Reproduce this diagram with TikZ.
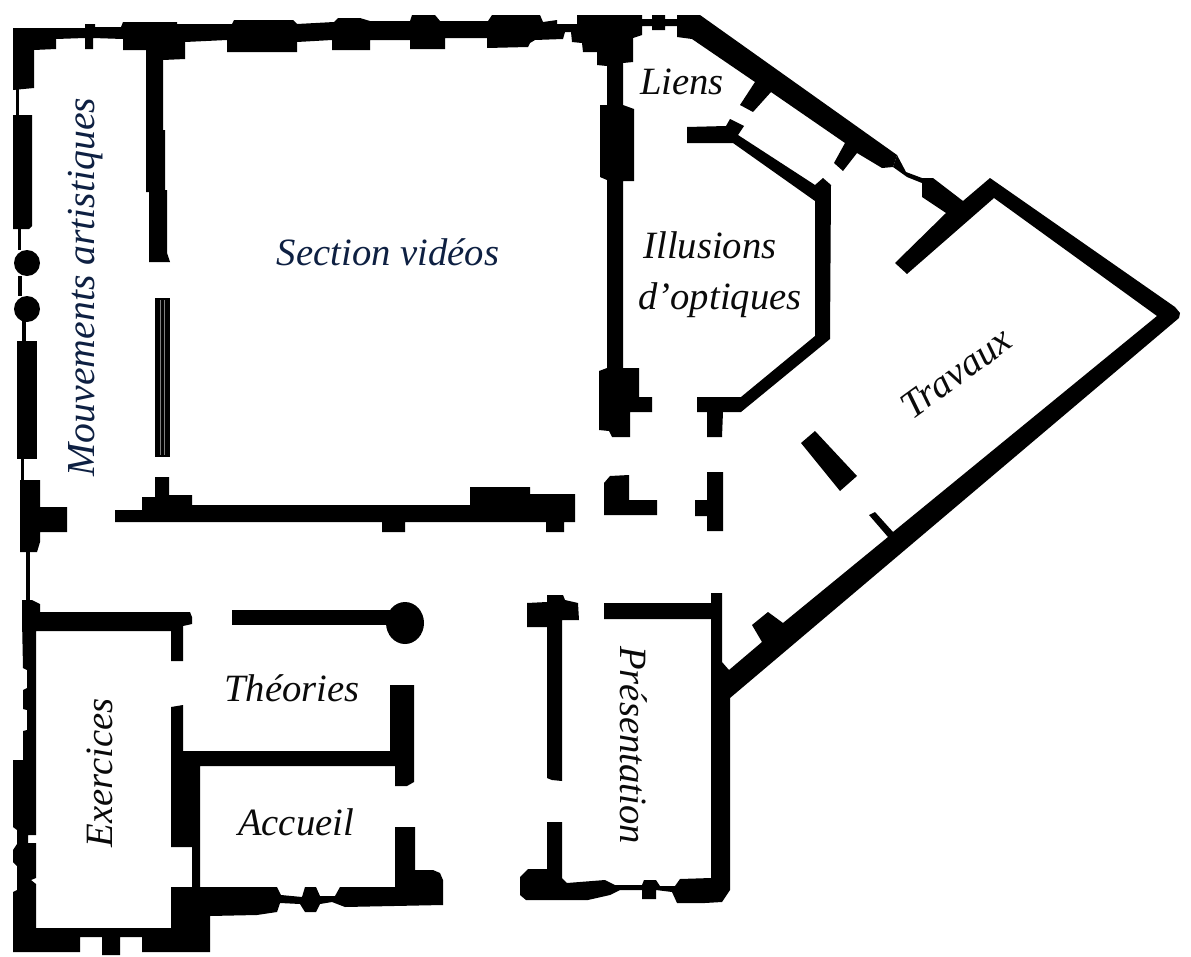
\documentclass[tikz,border=0pt]{standalone}
\usepackage{xcolor}
\usepackage{fontspec}
\setmainfont{Liberation Serif}
\usetikzlibrary{positioning}
\definecolor{navycolor}{RGB}{14,32,66}
\definecolor{inkcolor}{RGB}{10,10,10}

\begin{document}
\begin{tikzpicture}[
    x=0.02cm, y=-0.02cm,
    wall/.style={fill=black, draw=none},
    thinwall/.style={draw=black, line width=2pt},
    room/.style={font=\fontsize{22}{26}\selectfont\itshape, text=inkcolor, inner sep=0pt},
    navyroom/.style={room, text=navycolor}
]
    \useasboundingbox[fill=white] (0,0) rectangle (1191,957);

    % top wall and left corner
    \fill[wall] (13,28) -- (85,28) -- (85,24) -- (95,24) -- (95,27) -- (121,27) -- (123,22) -- (177,22) -- (177,24)
        -- (232,24) -- (234,20) -- (293,20) -- (297,24) -- (334,22) -- (338,18) -- (360,18) -- (370,21) -- (410,21)
        -- (412,15) -- (435,15) -- (440,21) -- (488,21) -- (492,15) -- (540,15) -- (543,22) -- (557,20) -- (557,24)
        -- (577,24) -- (577,15) -- (642,15) -- (642,19) -- (652,19) -- (652,15) -- (665,15) -- (665,19) -- (677,19)
        -- (677,15) -- (700,15) -- (897,155) -- (893,167) -- (882,168) -- (857,153) -- (843,171) -- (834,163) -- (845,143)
        -- (771,92) -- (753,112) -- (740,105) -- (755,82) -- (692,39) -- (677,37) -- (677,26) -- (665,26) -- (665,30)
        -- (652,30) -- (652,26) -- (642,26) -- (642,35) -- (633,38) -- (633,62) -- (623,63) -- (623,105) -- (634,109)
        -- (634,181) -- (623,181) -- (623,368) -- (639,368) -- (639,397) -- (652,397) -- (652,412) -- (630,412)
        -- (630,437) -- (612,437) -- (609,431) -- (599,430) -- (599,371) -- (607,368) -- (607,180) -- (600,177)
        -- (600,105) -- (607,105) -- (607,66) -- (597,65) -- (597,52) -- (583,52) -- (582,43) -- (572,42) -- (571,32)
        -- (565,32) -- (563,39) -- (535,40) -- (530,43) -- (528,47) -- (487,48) -- (487,38) -- (445,38) -- (445,49)
        -- (410,49) -- (410,40) -- (370,40) -- (370,50) -- (332,50) -- (332,40) -- (297,42) -- (297,52) -- (227,52)
        -- (227,40) -- (185,42) -- (185,59) -- (163,60) -- (163,130) -- (165,130) -- (165,190) -- (167,190) -- (167,253)
        -- (170,262) -- (149,262) -- (149,192) -- (146,192) -- (146,60) -- (146,50) -- (123,50) -- (123,39) -- (93,38)
        -- (93,49) -- (85,49) -- (85,38) -- (56,39) -- (56,49) -- (34,50) -- (34,88) -- (13,90) -- cycle;

    % left wall pieces
    \draw[thinwall] (17.5,88) -- (17.5,115);
    \fill[wall] (13,115) -- (32,115) -- (32,226) -- (29,229) -- (13,229) -- cycle;
    \draw[thinwall] (19.5,229) -- (19.5,250);
    \fill[wall] (27,263) circle (13);
    \draw[thinwall] (20,276) -- (20,296);
    \fill[wall] (27,309) circle (13);
    \draw[thinwall] (24,320) -- (24,342);
    \fill[wall] (17,341) -- (37,341) -- (37,459) -- (17,459) -- cycle;
    \draw[thinwall] (22.5,459) -- (22.5,480);
    \fill[wall] (20,480) -- (40,480) -- (40,507) -- (67,507) -- (67,532) -- (40,532) -- (40,542) -- (37,552) -- (20,552) -- cycle;
    \draw[thinwall] (28,552) -- (28,600);

    % lower left outer wall, Exercices and Accueil
    \fill[wall] (22,600) -- (32,600) -- (40,604) -- (40,612) -- (190,612) -- (192,617) -- (192,624) -- (183,626)
        -- (183,661) -- (171,661) -- (171,631) -- (36,631) -- (36,835) -- (28,835) -- (28,843) -- (36,843) -- (36,878)
        -- (31,880) -- (36,884) -- (36,928) -- (171,928) -- (171,887) -- (192,887) -- (192,847) -- (171,847) -- (171,707)
        -- (183,705) -- (183,751) -- (390,751) -- (390,685) -- (414,685) -- (414,782) -- (407,786) -- (395,786)
        -- (395,766) -- (200,766) -- (200,887) -- (277,887) -- (281,895) -- (302,897) -- (305,887) -- (316,887)
        -- (320,896) -- (335,896) -- (340,887) -- (395,887) -- (395,827) -- (415,827) -- (415,870) -- (433,870)
        -- (440,873) -- (443,880) -- (443,905) -- (345,907) -- (332,902) -- (320,904) -- (316,912) -- (305,912) -- (300,904)
        -- (280,903) -- (277,912) -- (257,915) -- (210,916) -- (210,952) -- (142,952) -- (142,937) -- (120,937)
        -- (120,955) -- (102,955) -- (102,937) -- (80,937) -- (80,952) -- (13,952) -- (13,892) -- (17,890) -- (17,866)
        -- (13,862) -- (13,850) -- (17,844) -- (17,830) -- (13,827) -- (13,760) -- (23,760) -- (23,731) -- (27,730)
        -- (27,710) -- (23,709) -- (23,690) -- (27,688) -- (27,670) -- (23,668) -- (22,620) -- cycle;

    % thin double wall of the Section videos
    \fill[wall] (155,298) rectangle (170,457);
    \draw[gray, line width=0.5pt] (160,300) -- (160,455);
    \draw[gray, line width=0.5pt] (164,300) -- (164,455);

    % corridor wall
    \fill[wall] (115,510) -- (142,510) -- (142,497) -- (155,497) -- (155,477) -- (169,477) -- (169,495) -- (192,495)
        -- (192,505) -- (470,505) -- (470,487) -- (530,487) -- (530,494) -- (575,494) -- (575,522) -- (564,522)
        -- (564,532) -- (546,532) -- (546,522) -- (405,522) -- (405,532) -- (382,532) -- (382,522) -- (115,522) -- cycle;

    % wall of Theories
    \fill[wall] (232,610) rectangle (400,625);
    \fill[wall] (405,623) ellipse (19 and 21);

    % Illusions room
    \fill[wall] (687,127) -- (726,126) -- (730,119) -- (744,126) -- (738,135) -- (815,185) -- (823,178) -- (831,185)
        -- (830,339) -- (741,412) -- (723,412) -- (722,437) -- (707,437) -- (707,412) -- (697,412) -- (697,397)
        -- (741,397) -- (815,336) -- (815,201) -- (733,143) -- (687,143) -- cycle;

    % small pieces around the crossing
    \fill[wall] (604,483) -- (610,476) -- (629,475) -- (629,500) -- (657,500) -- (657,515) -- (604,515) -- cycle;
    \fill[wall] (707,472) -- (723,472) -- (723,531) -- (707,531) -- (707,516) -- (695,516) -- (695,500) -- (707,500) -- cycle;
    \fill[wall] (815,431) -- (857,476) -- (840,491) -- (801,443) -- cycle;

    % Travaux room
    \fill[wall] (897,155) -- (906,172) -- (922,178) -- (933,178) -- (963,201) -- (990,178) -- (1175,307) -- (1180,313)
        -- (1179,318) -- (730,698) -- (730,890) -- (722,902) -- (705,903) -- (677,903) -- (672,892) -- (656,890)
        -- (656,899) -- (642,899) -- (642,890) -- (620,890) -- (610,895) -- (588,900) -- (526,900) -- (520,895)
        -- (520,877) -- (528,869) -- (547,869) -- (547,822) -- (562,822) -- (562,878) -- (567,883) -- (605,880)
        -- (615,885) -- (642,885) -- (644,880) -- (656,880) -- (660,886) -- (675,886) -- (680,879) -- (711,878)
        -- (711,619) -- (604,619) -- (604,603) -- (711,603) -- (711,593) -- (722,593) -- (722,662) -- (729,670)
        -- (762,642) -- (752,625) -- (768,612) -- (783,623) -- (888,537) -- (869,515) -- (875,512) -- (893,532)
        -- (1157,316) -- (994,198) -- (907,274) -- (895,263) -- (946,213) -- (922,197) -- (922,183) -- (907,177) -- (893,167) -- cycle;

    % Presentation left wall
    \fill[wall] (527,603) -- (547,602) -- (547,595) -- (563,595) -- (565,600) -- (578,603) -- (579,620) -- (562,620)
        -- (562,781) -- (552,780) -- (547,778) -- (547,627) -- (527,627) -- cycle;

    \node[navyroom, rotate=90, font=\fontsize{22.6}{26}\selectfont\itshape] (mouvements) at (86,287) {Mouvements artistiques};
    \node[navyroom] (videos) at (388,252) {Section vidéos};
    \node[room] (liens) at (682,82) {Liens};
    \node[room] (illusions) at (710,245) {Illusions};
    \node[room] (optiques) at (720,300) {d’optiques};
    \node[room, rotate=36] (travaux) at (956,373) {Travaux};
    \node[room, rotate=-90] (presentation) at (634,745) {Présentation};
    \node[room] (theories) at (292,688) {Théories};
    \node[room] (accueil) at (296,822) {Accueil};
    \node[room, rotate=90] (exercices) at (100,773) {Exercices};
\end{tikzpicture}
\end{document}
